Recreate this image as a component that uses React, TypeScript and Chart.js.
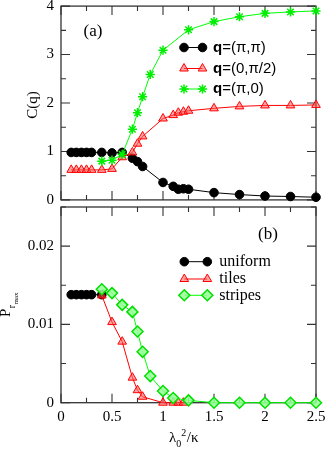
import React, { useEffect, useRef } from 'react';
import { Chart, registerables } from 'chart.js';
import { drawPoint } from 'chart.js/helpers';

Chart.register(...registerables);

// ---------- axis ticks ----------
const xMajor = [0, 0.5, 1, 1.5, 2, 2.5];
const xMinor = [0.25, 0.75, 1.25, 1.75, 2.25];
const cYMajor = [0, 1, 2, 3, 4];
const cYMinor = [0.5, 1.5, 2.5, 3.5];
const pYMajor = [0, 0.01, 0.02];
const pYMinor = [0.005, 0.015, 0.025];

// ---------- panel (a): C(q) ----------
const piPiX = [0.1, 0.15, 0.2, 0.25, 0.3, 0.4, 0.5, 0.6, 0.7, 0.75, 0.8, 1.0, 1.1, 1.15, 1.2, 1.25, 1.5, 1.75, 2, 2.25, 2.5];
const piPiY = [0.98, 0.98, 0.98, 0.98, 0.98, 0.98, 0.97, 0.98, 0.86, 0.79, 0.69, 0.36, 0.28, 0.22, 0.23, 0.22, 0.15, 0.11, 0.08, 0.07, 0.055];
const zeroPiHalfX = [0.1, 0.15, 0.2, 0.25, 0.3, 0.4, 0.5, 0.6, 0.7, 0.75, 0.8, 1.0, 1.1, 1.15, 1.2, 1.25, 1.5, 1.75, 2, 2.25, 2.5];
const zeroPiHalfY = [0.62, 0.62, 0.62, 0.62, 0.62, 0.62, 0.64, 0.88, 0.98, 1.16, 1.31, 1.68, 1.75, 1.8, 1.82, 1.84, 1.89, 1.93, 1.95, 1.95, 1.96];
const piZeroX = [0.4, 0.5, 0.6, 0.7, 0.75, 0.8, 0.875, 1.0, 1.25, 1.5, 1.75, 2, 2.25, 2.5];
const piZeroY = [0.8, 0.82, 0.94, 1.46, 1.8, 2.13, 2.59, 3.09, 3.51, 3.68, 3.78, 3.85, 3.88, 3.9];

// ---------- panel (b): P_rmax ----------
const uniformX = [0.1, 0.15, 0.2, 0.25, 0.3, 0.4];
const uniformY = [0.0138, 0.0138, 0.0138, 0.0138, 0.0138, 0.0138];
const tilesX = [0.4, 0.5, 0.6, 0.7, 0.75, 0.8, 1.0, 1.1, 1.15, 1.2];
const tilesY = [0.0137, 0.0103, 0.0078, 0.0032, 0.0016, 0.00076, 0, 0, 0, 0];
const stripesX = [0.4, 0.5, 0.6, 0.7, 0.75, 0.8, 0.875, 1.0, 1.1, 1.25, 1.5, 1.75, 2, 2.25, 2.5];
const stripesY = [0.0145, 0.014, 0.0125, 0.0116, 0.0091, 0.0065, 0.0034, 0.0015, 0.0006, 0.0003, 0, 0, 0, 0, 0];

const legendA = ['q=(π,π)', 'q=(0,π/2)', 'q=(π,0)'];
const legendB = ['uniform', 'tiles', 'stripes'];

const SERIF = '"Liberation Serif", "Times New Roman", serif';
const SANS = '"Liberation Sans", Arial, sans-serif';
const FRAME = '#333';

const zip = (xs: number[], ys: number[]) => xs.map((x, i) => ({ x, y: ys[i] }));

const blackStyle = {
  borderColor: '#000', backgroundColor: '#000', borderWidth: 1,
  pointStyle: 'circle', pointRadius: 4.3, pointBackgroundColor: '#000', pointBorderColor: '#000', pointBorderWidth: 1,
};
const redStyle = {
  borderColor: '#ff0000', backgroundColor: '#ff0000', borderWidth: 1,
  pointStyle: 'triangle', pointRadius: 5, pointBackgroundColor: 'rgba(255,90,90,0.55)', pointBorderColor: '#ff0000', pointBorderWidth: 1,
};
const starStyle = {
  borderColor: '#00ff00', backgroundColor: '#00ff00', borderWidth: 1,
  pointStyle: 'star', pointRadius: 4.6, pointBackgroundColor: '#00ff00', pointBorderColor: '#00ee00', pointBorderWidth: 1.5,
};
const diamondStyle = {
  borderColor: '#00ff00', backgroundColor: '#00ff00', borderWidth: 1,
  pointStyle: 'rectRot', pointRadius: 5.5, pointBackgroundColor: 'rgba(150,255,150,0.85)', pointBorderColor: '#00e000', pointBorderWidth: 1.5,
};

const framePlugin = {
  id: 'frame',
  beforeDatasetsDraw(chart: any, _args: any, opts: any) {
    const { ctx, chartArea: a, scales } = chart;
    const sx = scales.x, sy = scales.y;
    ctx.save();
    ctx.strokeStyle = FRAME;
    ctx.lineWidth = 1.3;
    ctx.strokeRect(a.left, a.top, a.right - a.left, a.bottom - a.top);
    ctx.lineWidth = 1.1;
    const vt = (vals: number[], len: number) => {
      vals.forEach((v) => {
        const p = sx.getPixelForValue(v);
        ctx.beginPath();
        ctx.moveTo(p, a.bottom); ctx.lineTo(p, a.bottom - len);
        ctx.moveTo(p, a.top); ctx.lineTo(p, a.top + len);
        ctx.stroke();
      });
    };
    const ht = (vals: number[], len: number) => {
      vals.forEach((v) => {
        const p = sy.getPixelForValue(v);
        ctx.beginPath();
        ctx.moveTo(a.left, p); ctx.lineTo(a.left + len, p);
        ctx.moveTo(a.right, p); ctx.lineTo(a.right - len, p);
        ctx.stroke();
      });
    };
    vt(opts.xMajor, 9); vt(opts.xMinor, 5);
    ht(opts.yMajor, 9); ht(opts.yMinor, 5);
    ctx.restore();
  },
};

function legendItem(ctx: any, st: any, x1: number, x2: number, y: number, tx: number, parts: [string, string][]) {
  ctx.save();
  ctx.strokeStyle = st.borderColor;
  ctx.lineWidth = st.borderWidth;
  ctx.beginPath(); ctx.moveTo(x1, y); ctx.lineTo(x2, y); ctx.stroke();
  const o = { pointStyle: st.pointStyle, radius: st.pointRadius, rotation: 0, borderWidth: st.pointBorderWidth };
  ctx.fillStyle = st.pointBackgroundColor;
  ctx.strokeStyle = st.pointBorderColor;
  ctx.lineWidth = st.pointBorderWidth;
  drawPoint(ctx, o as any, x1, y);
  drawPoint(ctx, o as any, x2, y);
  ctx.fillStyle = '#000';
  ctx.textBaseline = 'middle';
  ctx.textAlign = 'left';
  let x = tx;
  parts.forEach(([t, f]) => { ctx.font = f; ctx.fillText(t, x, y); x += ctx.measureText(t).width; });
  ctx.restore();
}

const textsA = {
  id: 'textsA',
  afterDatasetsDraw(chart: any) {
    const { ctx } = chart;
    ctx.save();
    ctx.fillStyle = '#000';
    ctx.font = `17px ${SERIF}`;
    ctx.textAlign = 'center';
    ctx.textBaseline = 'middle';
    ctx.fillText('(a)', 93, 32);
    ctx.font = `15px ${SERIF}`;
    ctx.translate(33, 105);
    ctx.rotate(-Math.PI / 2);
    ctx.fillText('C(q)', 0, 0);
    ctx.restore();
    const styles = [blackStyle, redStyle, starStyle];
    const ys = [47.5, 68.5, 89];
    legendA.forEach((lab, i) => {
      legendItem(ctx, styles[i], 184, 202.5, ys[i], 213, [
        [lab.slice(0, 1), `bold 15px ${SANS}`],
        [lab.slice(1), `15px ${SANS}`],
      ]);
    });
  },
};

const textsB = {
  id: 'textsB',
  afterDatasetsDraw(chart: any) {
    const { ctx } = chart;
    ctx.save();
    ctx.fillStyle = '#000';
    ctx.font = `17px ${SERIF}`;
    ctx.textAlign = 'center';
    ctx.textBaseline = 'middle';
    ctx.fillText('(b)', 268, 35);
    // x-axis title  λ0^2/κ
    ctx.textAlign = 'left';
    ctx.textBaseline = 'alphabetic';
    let x = 169;
    ctx.font = `15px ${SERIF}`;
    ctx.fillText('λ', x, 242); x += ctx.measureText('λ').width;
    ctx.font = `10px ${SERIF}`;
    ctx.fillText('0', x, 246.5); x += ctx.measureText('0').width;
    ctx.fillText('2', x, 235.7); x += ctx.measureText('2').width + 0.5;
    ctx.font = `15px ${SERIF}`;
    ctx.fillText('/κ', x, 242);
    // y-axis title P_{r_max}
    ctx.translate(10, 117);
    ctx.rotate(-Math.PI / 2);
    ctx.font = `15px ${SERIF}`;
    ctx.fillText('P', 0, 0);
    let u = ctx.measureText('P').width + 0.5;
    ctx.font = `10px ${SERIF}`;
    ctx.fillText('r', u, 4.5);
    u += ctx.measureText('r').width + 0.3;
    ctx.font = `7px ${SERIF}`;
    ctx.fillText('max', u, 8);
    ctx.restore();
    const styles = [blackStyle, redStyle, diamondStyle];
    const ys = [61.7, 79, 95.3];
    legendB.forEach((lab, i) => {
      legendItem(ctx, styles[i], 184.3, 207.3, ys[i], 219.3, [[lab, `16px ${SERIF}`]]);
    });
  },
};

function yScale(max: number, majors: number[], width: number) {
  return {
    type: 'linear',
    min: 0,
    max,
    grid: { display: false, drawTicks: false },
    border: { display: false },
    ticks: {
      autoSkip: false,
      padding: 7,
      color: '#000',
      font: { family: SERIF, size: 15 },
      callback: (v: any) => String(v),
    },
    afterBuildTicks: (s: any) => { s.ticks = majors.map((value) => ({ value })); },
    afterFit: (s: any) => { s.width = width; s.paddingTop = 0; s.paddingBottom = 0; },
  };
}

export default function App() {
  const refA = useRef<HTMLCanvasElement>(null);
  const refB = useRef<HTMLCanvasElement>(null);

  useEffect(() => {
    const chartA = new Chart(refA.current as HTMLCanvasElement, {
      type: 'line',
      data: {
        datasets: [
          { label: legendA[0], data: zip(piPiX, piPiY), order: 2, clip: false, ...blackStyle } as any,
          { label: legendA[1], data: zip(zeroPiHalfX, zeroPiHalfY), order: 1, clip: false, ...redStyle } as any,
          { label: legendA[2], data: zip(piZeroX, piZeroY), order: 0, clip: false, ...starStyle } as any,
        ],
      },
      options: {
        animation: false,
        responsive: false,
        maintainAspectRatio: false,
        layout: { padding: { left: 0, right: 11, top: 6, bottom: 1 } },
        plugins: {
          legend: { display: false },
          tooltip: { enabled: false },
          frame: { xMajor, xMinor, yMajor: cYMajor, yMinor: cYMinor },
        } as any,
        scales: {
          x: {
            type: 'linear', min: 0, max: 2.5,
            grid: { display: false, drawTicks: false },
            border: { display: false },
            ticks: { display: false },
            afterFit: (s: any) => { s.height = 0; s.paddingLeft = 0; s.paddingRight = 0; },
          },
          y: yScale(4, cYMajor, 61),
        } as any,
      },
      plugins: [framePlugin, textsA],
    });

    const chartB = new Chart(refB.current as HTMLCanvasElement, {
      type: 'line',
      data: {
        datasets: [
          { label: legendB[0], data: zip(uniformX, uniformY), order: 2, clip: false, ...blackStyle } as any,
          { label: legendB[1], data: zip(tilesX, tilesY), order: 1, clip: false, ...redStyle } as any,
          { label: legendB[2], data: zip(stripesX, stripesY), order: 0, clip: false, ...diamondStyle } as any,
        ],
      },
      options: {
        animation: false,
        responsive: false,
        maintainAspectRatio: false,
        layout: { padding: { left: 0, right: 11, top: 5, bottom: 0 } },
        plugins: {
          legend: { display: false },
          tooltip: { enabled: false },
          frame: { xMajor, xMinor, yMajor: pYMajor, yMinor: pYMinor },
        } as any,
        scales: {
          x: {
            type: 'linear', min: 0, max: 2.5,
            grid: { display: false, drawTicks: false },
            border: { display: false },
            ticks: {
              autoSkip: false, maxRotation: 0, padding: 5, color: '#000',
              font: { family: SERIF, size: 15 },
              callback: (v: any) => String(v),
            },
            afterBuildTicks: (s: any) => { s.ticks = xMajor.map((value) => ({ value })); },
            afterFit: (s: any) => { s.height = 48.3; s.paddingLeft = 0; s.paddingRight = 0; },
          },
          y: yScale(0.025, pYMajor, 61),
        } as any,
      },
      plugins: [framePlugin, textsB],
    });

    return () => { chartA.destroy(); chartB.destroy(); };
  }, []);

  return (
    <div style={{ position: 'absolute', left: 0, top: 0, width: 327, height: 451, background: '#fff', overflow: 'hidden' }}>
      <canvas ref={refA} width={327} height={206} style={{ position: 'absolute', left: 0, top: 0, width: 327, height: 206 }} />
      <canvas ref={refB} width={327} height={251} style={{ position: 'absolute', left: 0, top: 200, width: 327, height: 251 }} />
    </div>
  );
}
